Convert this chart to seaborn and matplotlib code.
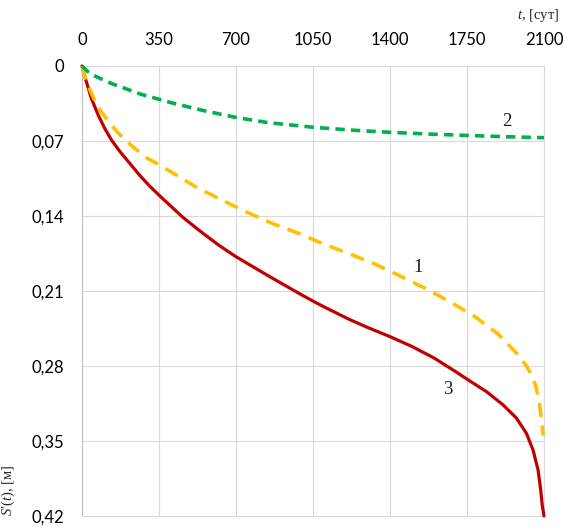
import matplotlib
matplotlib.use("Agg")
import matplotlib.pyplot as plt
import seaborn as sns
import pandas as pd

# ---- data ----
x_ticks = [0, 350, 700, 1050, 1400, 1750, 2100]
x_tick_labels = ["0", "350", "700", "1050", "1400", "1750", "2100"]
y_ticks = [0, 0.07, 0.14, 0.21, 0.28, 0.35, 0.42]
y_tick_labels = ["0", "0,07", "0,14", "0,21", "0,28", "0,35", "0,42"]

t1 = [0, 10, 25, 53, 85, 121, 160, 204, 250, 295, 350, 410, 515, 625, 745, 870, 983,
      1096, 1217, 1330, 1436, 1560, 1672, 1786, 1891, 1975, 2020, 2043, 2060, 2075,
      2085, 2092, 2096]
s1 = [0, 0.008, 0.017, 0.030, 0.042, 0.052, 0.0615, 0.0706, 0.0785, 0.086, 0.092,
      0.0995, 0.1126, 0.124, 0.136, 0.1474, 0.156, 0.166, 0.1754, 0.1847, 0.195,
      0.2075, 0.220, 0.234, 0.250, 0.268, 0.280, 0.288, 0.297, 0.310, 0.324, 0.336,
      0.345]

t2 = [0, 25, 60, 136, 270, 410, 560, 700, 850, 1000, 1050, 1225, 1400, 1575, 1750,
      1925, 2100]
s2 = [0, 0.005, 0.0095, 0.0165, 0.0265, 0.0345, 0.0420, 0.0480, 0.0530, 0.0561,
      0.0572, 0.0598, 0.0619, 0.0635, 0.0648, 0.0660, 0.0669]

t3 = [0, 10, 20, 43, 74, 104, 135, 173, 212, 260, 310, 360, 410, 460, 540, 620, 700,
      840, 900, 1000, 1050, 1100, 1218, 1300, 1400, 1500, 1600, 1700, 1763, 1839,
      1914, 1975, 2020, 2050, 2073, 2085, 2092, 2100]
s3 = [0, 0.008, 0.0149, 0.0305, 0.046, 0.0585, 0.0694, 0.080, 0.0896, 0.1015,
      0.1126, 0.1225, 0.1320, 0.1415, 0.1546, 0.1670, 0.1780, 0.1950, 0.2021,
      0.2138, 0.2194, 0.2248, 0.2368, 0.2442, 0.2526, 0.2618, 0.2725, 0.2855,
      0.2940, 0.3040, 0.3163, 0.3287, 0.3428, 0.3583, 0.3770, 0.3957, 0.4100,
      0.4200]

curve_labels = ["1", "2", "3"]
label_pos_t = [1527, 1929, 1663]
label_pos_s = [0.1876, 0.052, 0.3024]

# ---- plot ----
sns.set_theme(style="white")
plt.rcParams["mathtext.fontset"] = "custom"
plt.rcParams["mathtext.it"] = "Liberation Serif:italic"
plt.rcParams["mathtext.rm"] = "Liberation Serif"

fig = plt.figure(figsize=(5.63, 5.27), dpi=100)
ax = fig.add_axes([82 / 563, 1 - 516 / 527, (544 - 82) / 563, (516 - 66) / 527])

df1 = pd.DataFrame({"t": t1, "s": s1})
df2 = pd.DataFrame({"t": t2, "s": s2})
df3 = pd.DataFrame({"t": t3, "s": s3})

sns.lineplot(data=df3, x="t", y="s", ax=ax, color="#C00000", linewidth=2.3,
             sort=False, estimator=None, clip_on=False, zorder=3)
sns.lineplot(data=df1, x="t", y="s", ax=ax, color="#FFC000", linewidth=2.6,
             sort=False, estimator=None, clip_on=False, zorder=4,
             linestyle=(0, (3.9, 2.4)))
sns.lineplot(data=df2, x="t", y="s", ax=ax, color="#00B050", linewidth=2.6,
             sort=False, estimator=None, clip_on=False, zorder=4,
             linestyle=(0, (2.6, 1.7)))

ax.set_xlim(0, 2100)
ax.set_ylim(0.42, 0)
ax.xaxis.tick_top()
ax.set_xticks(x_ticks)
ax.set_xticklabels(x_tick_labels)
ax.set_yticks(y_ticks)
ax.set_yticklabels(y_tick_labels)
ax.tick_params(axis="x", length=0, pad=13, labelsize=12, colors="#000000")
ax.tick_params(axis="y", length=0, pad=13, labelsize=12, colors="#000000")
for lab in ax.get_xticklabels() + ax.get_yticklabels():
    lab.set_fontfamily("Lato")
ax.set_xlabel("")
ax.set_ylabel("")

ax.grid(True, color="#d9d9d9", linewidth=0.8)
for name, sp in ax.spines.items():
    sp.set_color("#d9d9d9")
    sp.set_linewidth(0.8)
ax.spines["left"].set_color("#bfbfbf")

for lbl, tx, sy in zip(curve_labels, label_pos_t, label_pos_s):
    ax.text(tx, sy, lbl, fontsize=13.5, family="Liberation Serif",
            ha="center", va="center", color="#1a1a1a", zorder=5)

fig.text(538 / 563, 1 - 15 / 527, "$t$, [сут]", fontsize=10.5,
         family="Liberation Serif", ha="center", va="center")
fig.text(8 / 563, 1 - 490 / 527, "$S$\u2032($t$), [м]", fontsize=10.5,
         family="Liberation Serif", ha="center", va="center", rotation=90)

fig.savefig("out.png", dpi=100)
